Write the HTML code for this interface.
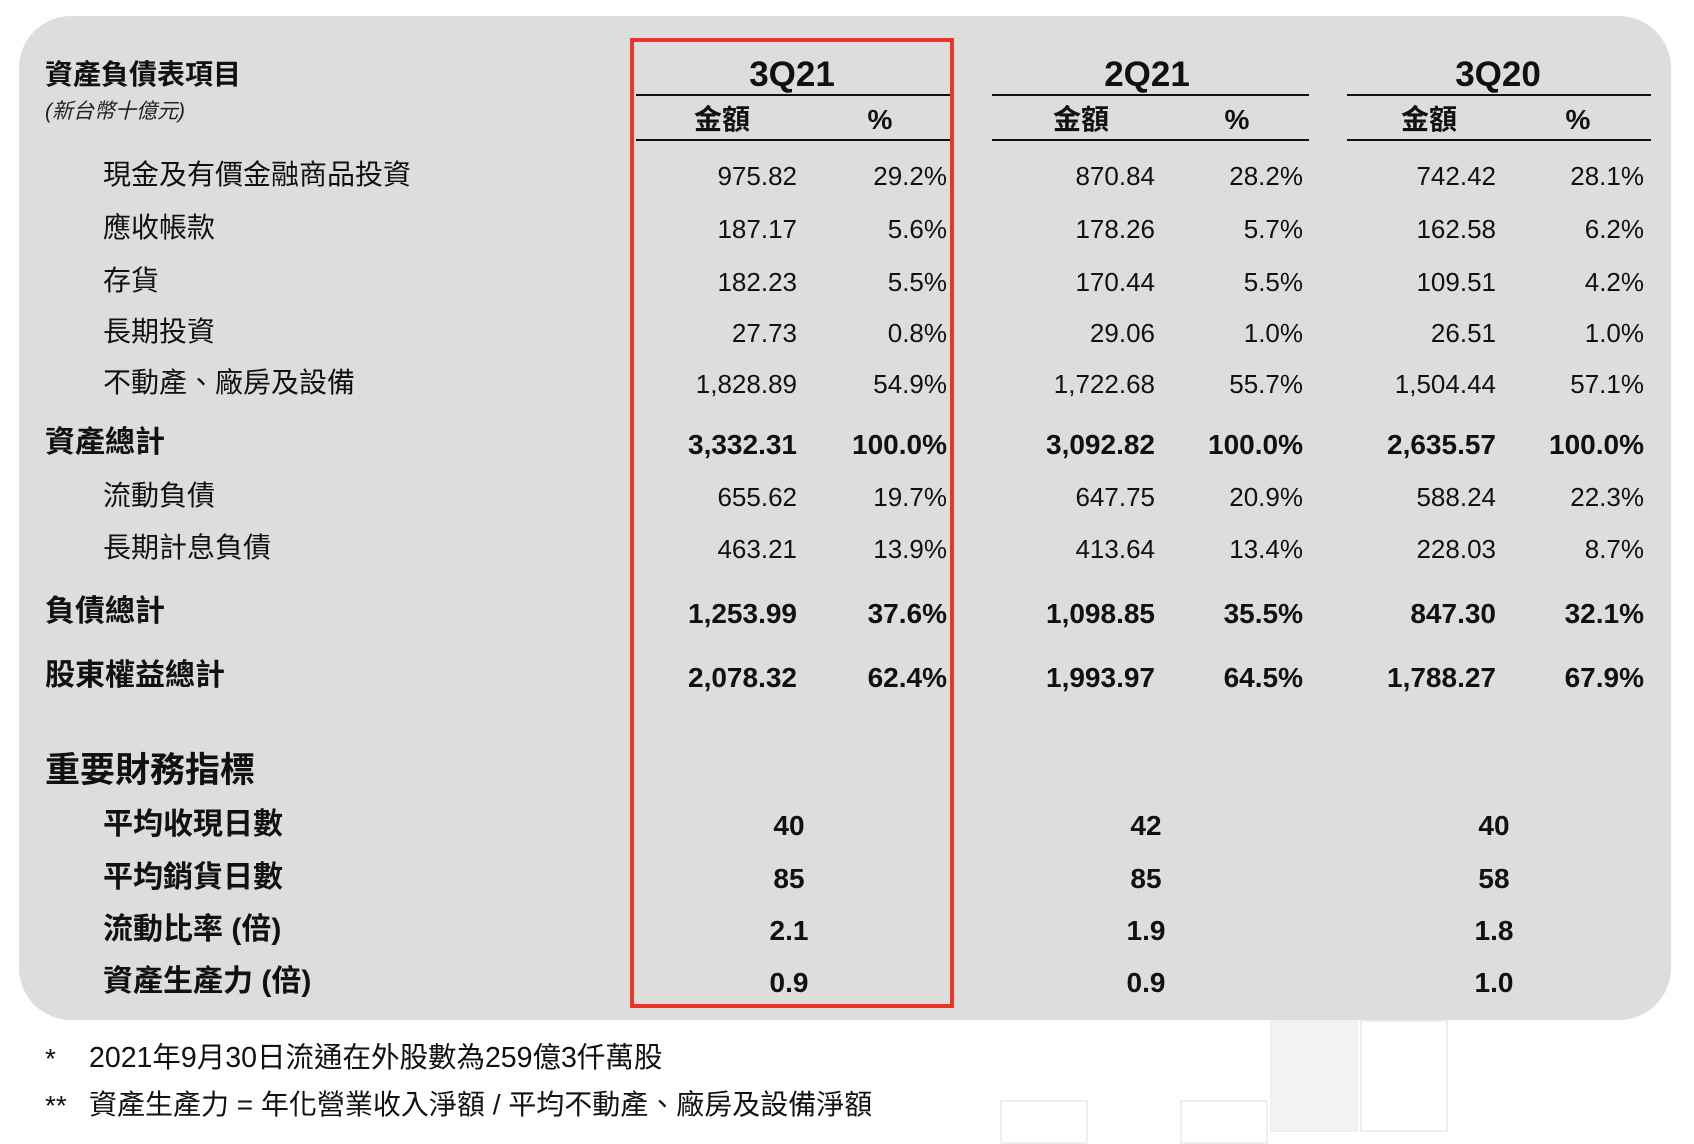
<!DOCTYPE html>
<html><head><meta charset="utf-8"><style>
body{margin:0;width:1694px;height:1128px;background:#fff;position:relative;overflow:hidden;font-family:"Liberation Sans","Noto Sans CJK TC",sans-serif;color:#111}
.panel{position:absolute;left:19px;top:16px;width:1652px;height:1004px;background:#dddddd;border-radius:52px}
.red{position:absolute;left:630px;top:38px;width:316px;height:962px;border:4px solid #e8352a}
.t{position:absolute;white-space:nowrap;line-height:1}
.b{font-weight:bold}
.r{transform:translateX(-100%)}
.c{transform:translateX(-50%)}
.ln{position:absolute;height:2px;background:#111}
.sq{position:absolute;border:2px solid #f1efee}
</style></head><body>
<div class="sq" style="left:1270px;top:1020px;width:84px;height:108px;background:#f4f2f1"></div>
<div class="sq" style="left:1360px;top:1020px;width:84px;height:108px"></div>
<div class="sq" style="left:1000px;top:1100px;width:84px;height:40px"></div>
<div class="sq" style="left:1180px;top:1100px;width:84px;height:40px"></div>
<div class="panel"></div>
<div class="red"></div>

<div class="t b" style="left:45px;top:61px;font-size:28px">資產負債表項目</div>
<div class="t" style="left:45px;top:101px;font-size:21px;font-style:italic;color:#222">(新台幣十億元)</div>

<div class="t b c" style="left:792px;top:57px;font-size:35px">3Q21</div>
<div class="t b c" style="left:1147px;top:57px;font-size:35px">2Q21</div>
<div class="t b c" style="left:1498px;top:57px;font-size:35px">3Q20</div>
<div class="ln" style="left:636px;top:94px;width:314px"></div>
<div class="ln" style="left:992px;top:94px;width:317px"></div>
<div class="ln" style="left:1347px;top:94px;width:304px"></div>
<div class="t b c" style="left:722px;top:106px;font-size:28px">金額</div>
<div class="t b c" style="left:880px;top:106px;font-size:28px">%</div>
<div class="t b c" style="left:1081px;top:106px;font-size:28px">金額</div>
<div class="t b c" style="left:1237px;top:106px;font-size:28px">%</div>
<div class="t b c" style="left:1429px;top:106px;font-size:28px">金額</div>
<div class="t b c" style="left:1578px;top:106px;font-size:28px">%</div>
<div class="ln" style="left:636px;top:139px;width:314px"></div>
<div class="ln" style="left:992px;top:139px;width:317px"></div>
<div class="ln" style="left:1347px;top:139px;width:304px"></div>

<div id="rows"></div>
<script>
var rows=[
[174,0,"現金及有價金融商品投資","975.82","29.2%","870.84","28.2%","742.42","28.1%"],
[227,0,"應收帳款","187.17","5.6%","178.26","5.7%","162.58","6.2%"],
[280,0,"存貨","182.23","5.5%","170.44","5.5%","109.51","4.2%"],
[331,0,"長期投資","27.73","0.8%","29.06","1.0%","26.51","1.0%"],
[382,0,"不動產、廠房及設備","1,828.89","54.9%","1,722.68","55.7%","1,504.44","57.1%"],
[442,1,"資產總計","3,332.31","100.0%","3,092.82","100.0%","2,635.57","100.0%"],
[495,0,"流動負債","655.62","19.7%","647.75","20.9%","588.24","22.3%"],
[547,0,"長期計息負債","463.21","13.9%","413.64","13.4%","228.03","8.7%"],
[611,1,"負債總計","1,253.99","37.6%","1,098.85","35.5%","847.30","32.1%"],
[675,1,"股東權益總計","2,078.32","62.4%","1,993.97","64.5%","1,788.27","67.9%"]];
var xs=[797,947,1155,1303,1496,1644],h="";
rows.forEach(function(r){var y=r[0]-13,b=r[1]?" b":"";
h+='<div class="t'+b+'" style="left:'+(r[1]?45:103)+'px;top:'+(r[1]?y-1:y)+'px;font-size:'+(r[1]?30:28)+'px">'+r[2]+'</div>';
for(var i=0;i<6;i++)h+='<div class="t r'+b+'" style="left:'+xs[i]+'px;top:'+(y+2)+'px;font-size:'+(r[1]?28:26)+'px">'+r[3+i]+'</div>';});
h+='<div class="t b" style="left:45px;top:753px;font-size:35px">重要財務指標</div>';
[[824,"平均收現日數","40","42","40"],[877,"平均銷貨日數","85","85","58"],[929,"流動比率 (倍)","2.1","1.9","1.8"],[981,"資產生產力 (倍)","0.9","0.9","1.0"]].forEach(function(r){var y=r[0]-13;
h+='<div class="t b" style="left:103px;top:'+(y-1)+'px;font-size:30px">'+r[1]+'</div>';
[789,1146,1494].forEach(function(x,i){h+='<div class="t b c" style="left:'+x+'px;top:'+(y+1)+'px;font-size:28px">'+r[2+i]+'</div>';});});
document.getElementById("rows").innerHTML=h;
</script>
<div class="t" style="left:45px;top:1045px;font-size:28px">*</div>
<div class="t" style="left:89px;top:1044px;font-size:28.5px">2021年9月30日流通在外股數為259億3仟萬股</div>
<div class="t" style="left:45px;top:1092px;font-size:28px">**</div>
<div class="t" style="left:89px;top:1091px;font-size:28px">資產生產力 = 年化營業收入淨額 / 平均不動產、廠房及設備淨額</div>
</body></html>
